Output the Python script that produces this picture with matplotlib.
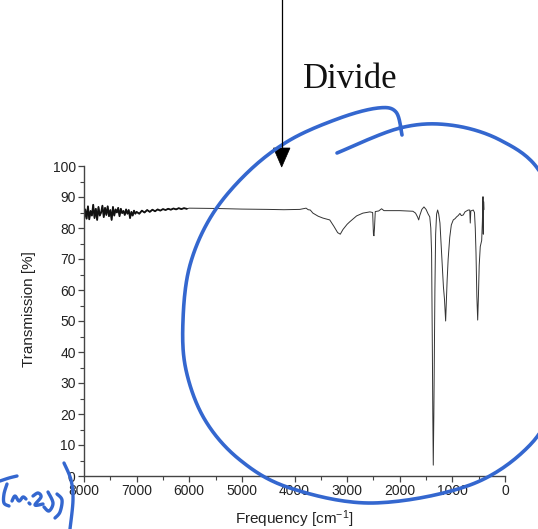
import numpy as np
import matplotlib.pyplot as plt
from matplotlib.patches import Polygon
from matplotlib.ticker import MultipleLocator

plt.rcParams['font.family'] = ['Liberation Sans', 'DejaVu Sans']
plt.rcParams['mathtext.fontset'] = 'custom'
plt.rcParams['mathtext.rm'] = 'Liberation Sans'
plt.rcParams['mathtext.it'] = 'Liberation Sans'

# ---- data ----
# noisy segment 8000 -> 7025 cm-1 (25 cm-1 steps)
noisy_vals = [82.5, 86.0, 83.0, 87.0, 82.8, 85.5, 84.0, 87.5, 83.2, 86.2,
              82.6, 86.8, 84.0, 85.0, 87.2, 83.5, 86.5, 84.2, 87.0, 83.8,
              85.8, 82.6, 86.8, 84.0, 86.0, 85.0, 86.5, 83.8, 86.2, 84.8,
              85.5, 84.2, 86.0, 84.6, 85.8, 83.2, 85.2, 84.0, 85.6, 84.6]
# segment 7000 -> 6050 cm-1 (50 cm-1 steps)
mid_vals = [85.2, 84.6, 85.6, 85.0, 85.8, 85.2, 85.9, 85.4, 86.0, 85.6,
            86.1, 85.8, 86.2, 85.9, 86.3, 86.0, 86.4, 86.1, 86.4, 86.2]
# features 6000 -> 400 cm-1
feat_freq = [6000, 5500, 5000, 4500, 4200, 3900, 3780, 3740, 3700, 3650,
             3550, 3460, 3330, 3250, 3180, 3130, 3080, 3000, 2950, 2820,
             2700, 2567, 2515, 2500, 2490, 2480, 2465, 2400, 2345, 2300,
             2150, 2000, 1850, 1750, 1700, 1660, 1640, 1620, 1580, 1540,
             1500, 1460, 1430, 1410, 1395, 1388, 1380, 1372, 1363, 1352,
             1342, 1332, 1318, 1300, 1280, 1260, 1236, 1215, 1198, 1170,
             1150, 1135, 1128, 1118, 1100, 1080, 1050, 1020, 983, 950,
             919, 890, 856, 830, 793, 760, 700, 670, 660, 650,
             603, 580, 565, 551, 535, 519, 505, 490, 470, 443,
             430, 418, 412, 406, 400]
feat_trans = [86.4, 86.3, 86.1, 86.0, 85.9, 86.0, 86.4, 85.9, 85.8, 84.8,
              83.8, 83.2, 82.6, 80.5, 78.5, 78.0, 79.5, 81.2, 82.0, 83.9,
              84.8, 85.2, 85.0, 78.0, 77.5, 80.0, 85.3, 85.5, 86.2, 85.6,
              85.6, 85.6, 85.5, 85.4, 84.8, 83.5, 82.6, 84.0, 86.0, 86.8,
              86.0, 84.5, 83.6, 80.0, 72.0, 58.0, 40.0, 20.0, 3.5, 20.0,
              40.0, 60.0, 78.0, 84.5, 85.8, 84.5, 81.6, 75.0, 69.7, 61.0,
              57.0, 52.0, 50.0, 55.0, 63.0, 70.0, 77.0, 81.0, 82.6, 83.0,
              83.6, 84.0, 84.7, 84.0, 84.2, 85.2, 85.8, 85.8, 81.6, 85.5,
              85.8, 85.0, 80.0, 72.0, 58.0, 50.3, 58.0, 68.0, 74.0, 76.0,
              82.0, 90.1, 78.0, 88.5, 86.0]

x_ticks = [8000, 7000, 6000, 5000, 4000, 3000, 2000, 1000, 0]
y_ticks = list(range(0, 101, 10))

noisy_freq = np.linspace(8000, 7025, len(noisy_vals))
mid_freq = np.linspace(7000, 6050, len(mid_vals))
freq = np.concatenate([noisy_freq, mid_freq, np.array(feat_freq, float)])
trans = np.concatenate([noisy_vals, mid_vals, feat_trans])

W, H = 538, 529
fig = plt.figure(figsize=(W / 100, H / 100), dpi=100)
ax = fig.add_axes([84 / W, 1 - 476 / H, 421 / W, 310 / H])

ax.plot(freq, trans, color='#333333', lw=0.7)
# the noisy high-frequency part appears as a heavier, darker trace
ax.plot(np.concatenate([noisy_freq, mid_freq]),
        np.concatenate([noisy_vals, mid_vals]), color='#111111', lw=1.3)
ax.set_xlim(8000, 0)
ax.set_ylim(0, 100)
ax.set_xticks(x_ticks)
ax.set_yticks(y_ticks)
ax.xaxis.set_minor_locator(MultipleLocator(500))
ax.yaxis.set_minor_locator(MultipleLocator(5))
for s in ['top', 'right']:
    ax.spines[s].set_visible(False)
for s in ['left', 'bottom']:
    ax.spines[s].set_color('#444444')
    ax.spines[s].set_linewidth(1.0)
ax.tick_params(which='major', direction='out', length=4, width=0.9,
               colors='#444444', labelcolor='#222222', labelsize=10, pad=2)
ax.tick_params(which='minor', direction='out', length=3, width=0.8,
               colors='#444444')
ax.set_ylabel('Transmission [%]', fontsize=11, color='#222222')
ax.set_xlabel('Frequency [cm$^{-1}$]', fontsize=11, color='#222222')
ax.yaxis.set_label_coords(-0.114, 0.54)
ax.xaxis.set_label_coords(0.5, -0.105)

# ---- handwritten overlay (figure pixel coordinates) ----
ov = fig.add_axes([0, 0, 1, 1], facecolor='none')
ov.set_xlim(0, W)
ov.set_ylim(H, 0)
ov.axis('off')

blue = '#3467cf'


def catmull(pts, n=20):
    p = np.array(pts, float)
    p = np.vstack([p[0], p, p[-1]])
    out = []
    for i in range(1, len(p) - 2):
        p0, p1, p2, p3 = p[i - 1], p[i], p[i + 1], p[i + 2]
        t = np.linspace(0, 1, n)[:, None]
        seg = 0.5 * ((2 * p1) + (-p0 + p2) * t + (2 * p0 - 5 * p1 + 4 * p2 - p3) * t ** 2
                     + (-p0 + 3 * p1 - 3 * p2 + p3) * t ** 3)
        out.append(seg)
    return np.vstack(out)


circle_pts = [(337, 153), (400, 128), (450, 125), (500, 140), (540, 172),
              (563, 240), (566, 320), (552, 400), (530, 445), (470, 485),
              (373, 503), (290, 488), (240, 460), (205, 420), (186, 370),
              (183, 320), (190, 265), (212, 215), (248, 172), (290, 140),
              (340, 118), (378, 108), (396, 112), (402, 135)]
c = catmull(circle_pts)
ov.plot(c[:, 0], c[:, 1], color=blue, lw=2.6, solid_capstyle='round')

scribbles = [
    [(0, 481), (9, 478), (17, 476)],
    [(7, 484), (4, 494), (4, 503), (9, 506)],
    [(12, 501), (15, 496), (19, 501), (23, 497), (26, 499)],
    [(29, 503), (30, 504)],
    [(33, 496), (38, 493), (41, 497), (35, 505), (43, 504)],
    [(48, 492), (53, 503), (49, 511), (44, 507)],
    [(57, 494), (62, 500), (60, 512), (55, 518)],
    [(64, 463), (71, 480), (73, 500), (70, 529)],
]
for s in scribbles:
    cs = catmull(s, 10)
    ov.plot(cs[:, 0], cs[:, 1], color=blue, lw=2.4, solid_capstyle='round')

# arrow and text
ov.plot([281.7, 281.7], [0, 150], color='black', lw=0.9)
ov.add_patch(Polygon([(273.5, 148), (290, 148), (281.7, 167)], closed=True,
                     facecolor='black', edgecolor='black', lw=0.5))
ov.text(350, 80, 'Divide', fontsize=25, family='Liberation Serif',
        ha='center', va='center', color='#111111')

fig.savefig('out.png', dpi=100)
